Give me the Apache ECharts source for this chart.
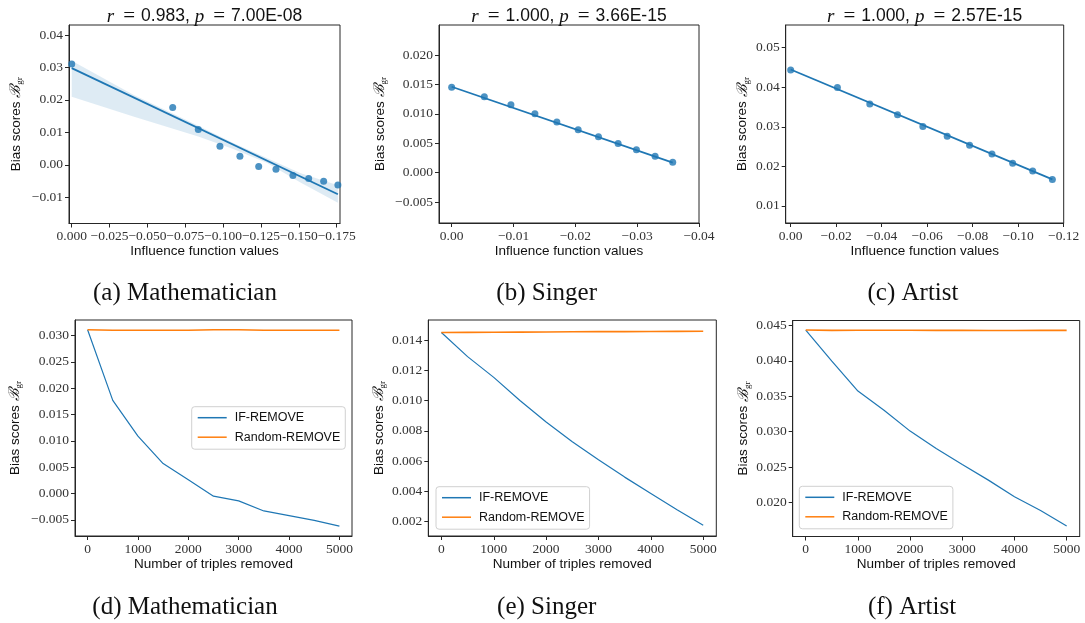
<!DOCTYPE html>
<html>
<head>
<meta charset="utf-8">
<script src="https://cdn.jsdelivr.net/npm/echarts@6/dist/echarts.min.js"></script>
<style>
html,body{margin:0;padding:0;background:#fff;}
#chart{width:1085px;height:623px;}
</style>
</head>
<body>
<div id="chart"></div>
<script>
// ---------------- data ----------------
const removed = [0, 500, 1000, 1500, 2000, 2500, 3000, 3500, 4000, 4500, 5000];

const mathInfluence = [0, -0.0667, -0.0836, -0.0979, -0.1111, -0.1235, -0.1349, -0.1461, -0.1565, -0.1664, -0.1758];
const mathIF = [0.0311, 0.0177, 0.0109, 0.0057, 0.0026, -0.0005, -0.0014, -0.0033, -0.0042, -0.0051, -0.0062];
const mathRandom = [0.0311, 0.0310, 0.0310, 0.0310, 0.0310, 0.0311, 0.0311, 0.0310, 0.0310, 0.0310, 0.0310];

const singerInfluence = [0, -0.00528, -0.00958, -0.01346, -0.01701, -0.02046, -0.02374, -0.02692, -0.02988, -0.0329, -0.03575];
const singerIF = [0.01449, 0.0129, 0.01153, 0.0100, 0.00858, 0.00727, 0.00608, 0.00494, 0.00386, 0.00278, 0.00176];
const singerRandom = [0.01449, 0.01450, 0.01451, 0.01452, 0.01453, 0.01454, 0.01455, 0.01455, 0.01456, 0.01457, 0.01458];

const artistInfluence = [0, -0.02054, -0.03477, -0.04695, -0.0581, -0.0688, -0.07864, -0.08847, -0.09756, -0.10637, -0.11502];
const artistIF = [0.04435, 0.03996, 0.03574, 0.03304, 0.03008, 0.02764, 0.02536, 0.02316, 0.0208, 0.01886, 0.01667];
const artistRandom = [0.04435, 0.04430, 0.04432, 0.04433, 0.04432, 0.04431, 0.04430, 0.04428, 0.04428, 0.04432, 0.04430];

// regression lines
const mathFitX = [0, -0.1758];
const mathFitY = [0.0298, -0.0091];
const singerFitX = [0, -0.03575];
const singerFitY = [0.0146, 0.0017];
const artistFitX = [0, -0.11502];
const artistFitY = [0.0445, 0.0167];

// confidence band of (a)
const mathBandX = [0, -0.0407, -0.0836, -0.1067, -0.1288, -0.1508, -0.1758];
const mathBandUpper = [0.0321, 0.0216, 0.0120, 0.0067, 0.0021, -0.0025, -0.0063];
const mathBandLower = [0.0210, 0.0149, 0.0087, 0.0049, 0.0006, -0.0054, -0.0117];

// tick values
const aXTicks = [0, -0.025, -0.05, -0.075, -0.1, -0.125, -0.15, -0.175];
const aYTicks = [-0.01, 0, 0.01, 0.02, 0.03, 0.04];
const bXTicks = [0, -0.01, -0.02, -0.03, -0.04];
const bYTicks = [-0.005, 0, 0.005, 0.01, 0.015, 0.02];
const cXTicks = [0, -0.02, -0.04, -0.06, -0.08, -0.1, -0.12];
const cYTicks = [0.01, 0.02, 0.03, 0.04, 0.05];
const removedTicks = [0, 1000, 2000, 3000, 4000, 5000];
const dYTicks = [-0.005, 0, 0.005, 0.01, 0.015, 0.02, 0.025, 0.03];
const eYTicks = [0.002, 0.004, 0.006, 0.008, 0.010, 0.012, 0.014];
const fYTicks = [0.02, 0.025, 0.03, 0.035, 0.04, 0.045];

const titlesR = ['0.983', '1.000', '1.000'];
const titlesP = ['7.00E-08', '3.66E-15', '2.57E-15'];
const captions = ['(a) Mathematician', '(b) Singer', '(c) Artist', '(d) Mathematician', '(e) Singer', '(f) Artist'];
const seriesNames = ['IF-REMOVE', 'Random-REMOVE'];
const xNameTop = 'Influence function values';
const xNameBottom = 'Number of triples removed';

// ---------------- layout / style ----------------
const BLUE = '#1f77b4', ORANGE = '#ff7f0e', INK = '#262626';
const grids = [
  {left: 69,    top: 25,    width: 271, height: 198.5},
  {left: 439,   top: 25,    width: 260, height: 198},
  {left: 785.7, top: 25,    width: 278, height: 198},
  {left: 75,    top: 320,   width: 277, height: 216},
  {left: 428.3, top: 320,   width: 288, height: 216},
  {left: 792.7, top: 320.5, width: 287, height: 216}
];
const yNameGaps = [45, 51, 35, 52, 41, 41];

function fmt(dec) {
  return function (v) {
    if (Math.abs(v) < 1e-12) v = 0;
    return (v < 0 ? '\u2212' : '') + Math.abs(v).toFixed(dec);
  };
}

function xAxis(i, ticks, min, max, dec, inverse, name) {
  return {
    type: 'value', gridIndex: i, min: min, max: max, inverse: inverse,
    name: name, nameLocation: 'middle', nameGap: 19,
    nameTextStyle: {fontFamily: 'Liberation Sans', fontSize: 13.5, color: '#111'},
    axisLine: {show: true, onZero: false, lineStyle: {color: INK, width: 1}},
    axisTick: {show: true, inside: false, length: 4, customValues: ticks, lineStyle: {color: INK}},
    axisLabel: {show: true, margin: 6, customValues: ticks, formatter: fmt(dec),
      fontFamily: 'Liberation Serif', fontSize: 13.5, color: '#333'},
    splitLine: {show: false}
  };
}
function yAxis(i, ticks, min, max, dec) {
  return {
    type: 'value', gridIndex: i, min: min, max: max,
    name: '{n|Bias scores }{b|\u212C}{g|gr}', nameLocation: 'middle', nameGap: yNameGaps[i],
    nameTextStyle: {
      fontFamily: 'Liberation Sans', fontSize: 13.5, color: '#111',
      rich: {
        n: {fontFamily: 'Liberation Sans', fontSize: 13.5, color: '#111', lineHeight: 16},
        b: {fontFamily: 'DejaVu Serif', fontStyle: 'italic', fontSize: 15, color: '#111', lineHeight: 16},
        g: {fontFamily: 'Liberation Serif', fontSize: 9, color: '#111', lineHeight: 16, verticalAlign: 'bottom', padding: [6, 0, 0, 0]}
      }
    },
    axisLine: {show: true, onZero: false, lineStyle: {color: INK, width: 1}},
    axisTick: {show: true, inside: false, length: 4, customValues: ticks, lineStyle: {color: INK}},
    axisLabel: {show: true, margin: 6, customValues: ticks, formatter: fmt(dec),
      fontFamily: 'Liberation Serif', fontSize: 13.5, color: '#333'},
    splitLine: {show: false}
  };
}

const zip = (xs, ys) => xs.map((x, k) => [x, ys[k]]);

function scatterSeries(i, xs, ys) {
  return {type: 'scatter', xAxisIndex: i, yAxisIndex: i, data: zip(xs, ys), symbolSize: 7,
    itemStyle: {color: BLUE, opacity: 0.8}, z: 3, silent: true};
}
function fitSeries(i, xs, ys) {
  return {type: 'line', xAxisIndex: i, yAxisIndex: i, data: zip(xs, ys), showSymbol: false, symbol: 'none',
    lineStyle: {color: BLUE, width: 1.8}, z: 4, silent: true};
}
function bandSeries(i, xs, up, lo) {
  return {
    type: 'custom', xAxisIndex: i, yAxisIndex: i, data: [0], z: 2, silent: true,
    renderItem: function (params, api) {
      const pts = [];
      for (let k = 0; k < xs.length; k++) pts.push(api.coord([xs[k], up[k]]));
      for (let k = xs.length - 1; k >= 0; k--) pts.push(api.coord([xs[k], lo[k]]));
      return {type: 'polygon', shape: {points: pts}, style: {fill: BLUE, opacity: 0.15}};
    }
  };
}
function curveSeries(i, name, ys, color, width) {
  return {type: 'line', name: name, xAxisIndex: i, yAxisIndex: i, data: zip(removed, ys),
    showSymbol: false, symbol: 'none', lineStyle: {color: color, width: width}, itemStyle: {color: color}, silent: true};
}

function legendAt(left, top) {
  return {
    data: seriesNames, orient: 'vertical', left: left, top: top,
    icon: 'rect', itemWidth: 29, itemHeight: 1.5, itemGap: 3.5,
    padding: [3, 5, 4, 6],
    backgroundColor: 'rgba(255,255,255,0.8)', borderColor: '#d0d0d0', borderWidth: 1, borderRadius: 3,
    textStyle: {fontFamily: 'Liberation Sans', fontSize: 12.5, color: '#111', lineHeight: 16, padding: [0, 0, 0, 3]},
    selectedMode: false
  };
}

const titleTexts = [];
for (let k = 0; k < 3; k++) {
  const g = grids[k];
  titleTexts.push({
    text: '{m|r}{e|=}{s|' + titlesR[k] + ',}{m2|p}{e|=}{s|' + titlesP[k] + '}',
    left: g.left + g.width / 2, top: 6, textAlign: 'center', padding: 0,
    textStyle: {
      fontWeight: 'normal',
      rich: {
        m: {fontFamily: 'Liberation Serif', fontStyle: 'italic', fontWeight: 'normal', fontSize: 19, color: '#111'},
        m2: {fontFamily: 'Liberation Serif', fontStyle: 'italic', fontWeight: 'normal', fontSize: 19, color: '#111', padding: [0, 0, 0, 5]},
        e: {fontFamily: 'Liberation Serif', fontWeight: 'normal', fontSize: 21, color: '#111', padding: [0, 6, 0, 9]},
        s: {fontFamily: 'Liberation Sans', fontWeight: 'normal', fontSize: 17.5, color: '#111'}
      }
    }
  });
}
const capX = [185, 546.7, 913, 185, 546.7, 912];
const capY = [281, 281, 281, 595, 595, 595];
captions.forEach((c, k) => {
  titleTexts.push({text: c, left: capX[k], top: capY[k], textAlign: 'center', padding: 0,
    textStyle: {fontFamily: 'Liberation Serif', fontSize: 25, fontWeight: 'normal', color: '#111'}});
});

const option = {
  animation: false,
  backgroundColor: '#fff',
  title: titleTexts,
  grid: grids.map(g => Object.assign({show: true, borderColor: INK, borderWidth: 1, backgroundColor: 'transparent', containLabel: false}, g)),
  legend: [legendAt(191.7, 406.7), legendAt(436, 486.7), legendAt(799.3, 486.3)],
  xAxis: [
    xAxis(0, aXTicks, -0.1772, 0.0018, 3, true, xNameTop),
    xAxis(1, bXTicks, -0.040, 0.00205, 2, true, xNameTop),
    xAxis(2, cXTicks, -0.120, 0.00219, 2, true, xNameTop),
    xAxis(3, removedTicks, -250, 5250, 0, false, xNameBottom),
    xAxis(4, removedTicks, -250, 5250, 0, false, xNameBottom),
    xAxis(5, removedTicks, -250, 5250, 0, false, xNameBottom)
  ],
  yAxis: [
    yAxis(0, aYTicks, -0.0181, 0.0431, 2),
    yAxis(1, bYTicks, -0.00858, 0.0251, 3),
    yAxis(2, cYTicks, 0.00569, 0.05574, 2),
    yAxis(3, dYTicks, -0.00806, 0.03296, 3),
    yAxis(4, eYTicks, 0.00105, 0.01532, 3),
    yAxis(5, fYTicks, 0.0152, 0.0457, 3)
  ],
  series: [
    bandSeries(0, mathBandX, mathBandUpper, mathBandLower),
    scatterSeries(0, mathInfluence, mathIF),
    fitSeries(0, mathFitX, mathFitY),
    scatterSeries(1, singerInfluence, singerIF),
    fitSeries(1, singerFitX, singerFitY),
    scatterSeries(2, artistInfluence, artistIF),
    fitSeries(2, artistFitX, artistFitY),
    curveSeries(3, seriesNames[0], mathIF, BLUE, 1.2),
    curveSeries(3, seriesNames[1], mathRandom, ORANGE, 1.6),
    curveSeries(4, seriesNames[0], singerIF, BLUE, 1.2),
    curveSeries(4, seriesNames[1], singerRandom, ORANGE, 1.6),
    curveSeries(5, seriesNames[0], artistIF, BLUE, 1.2),
    curveSeries(5, seriesNames[1], artistRandom, ORANGE, 1.6)
  ]
};

const chart = echarts.init(document.getElementById('chart'), null, {renderer: 'canvas'});
chart.setOption(option);
</script>
</body>
</html>
